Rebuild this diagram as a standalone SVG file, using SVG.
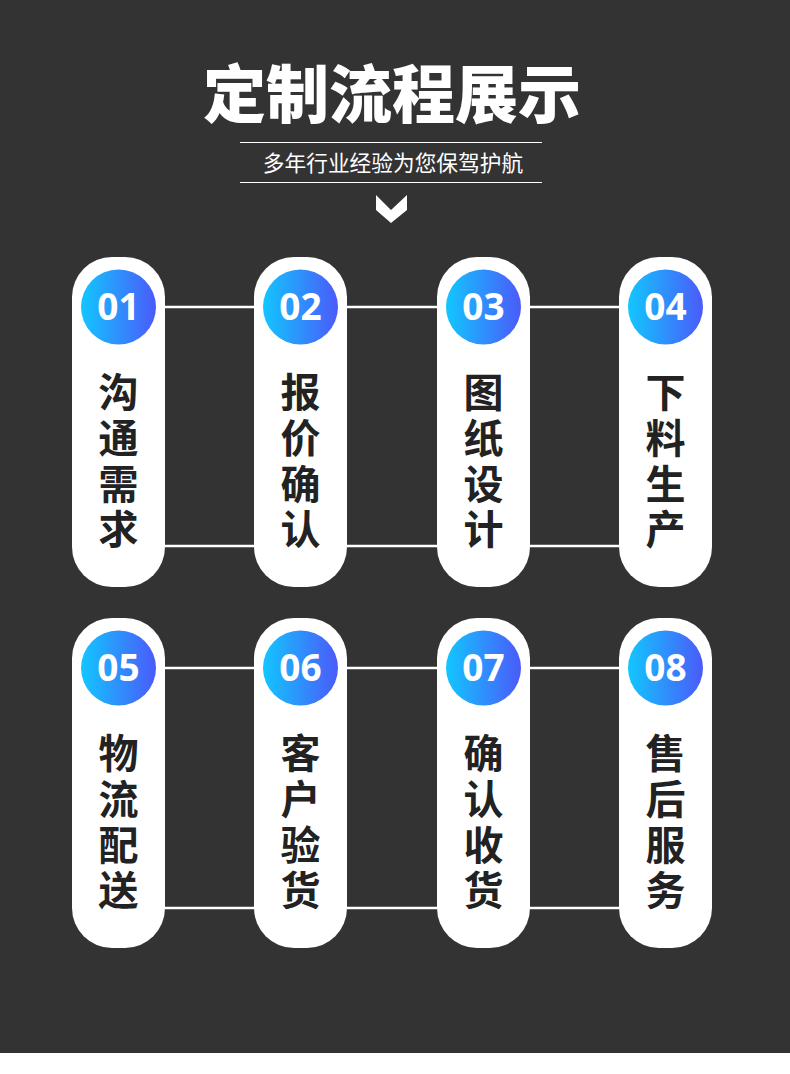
<svg xmlns="http://www.w3.org/2000/svg" width="790" height="1074" viewBox="0 0 790 1074">
<defs>
<linearGradient id="g" x1="0" y1="0" x2="1" y2="0">
<stop offset="0" stop-color="#12c6ff"/>
<stop offset="1" stop-color="#4b5afa"/>
</linearGradient>
<style>
.card{fill:#ffffff}
.num{fill:#ffffff;font-family:"Noto Sans","Noto Sans CJK SC",sans-serif;font-weight:700;font-size:37px;text-anchor:middle}
.lbl{fill:#222222;font-family:"Noto Sans CJK SC",sans-serif;font-weight:700;font-size:40px;text-anchor:start;writing-mode:vertical-rl;letter-spacing:5.7px}
.conn line{stroke:#ffffff;stroke-width:2.4}
</style>
</defs>
<rect x="0" y="0" width="790" height="1074" fill="#ffffff"/>
<rect x="0" y="0" width="790" height="1053" fill="#333333"/>
<g id="header">
<text x="392" y="117" fill="#ffffff" font-family="Noto Sans CJK SC, sans-serif" font-weight="900" font-size="63" text-anchor="middle">定制流程展示</text>
<line x1="240" y1="142.5" x2="542" y2="142.5" stroke="#ffffff" stroke-width="1"/>
<line x1="240" y1="182.5" x2="542" y2="182.5" stroke="#ffffff" stroke-width="1"/>
<text x="393" y="171" fill="#ffffff" font-family="Noto Sans CJK SC, sans-serif" font-size="21.7" text-anchor="middle">多年行业经验为您保驾护航</text>
<polygon points="376,195 391,210 407,195 407,210 391,223 376,210" fill="#ffffff"/>
</g>
<g id="connectors" class="conn">
<line x1="165" y1="307" x2="254" y2="307"/>
<line x1="347" y1="307" x2="437" y2="307"/>
<line x1="530" y1="307" x2="619" y2="307"/>
<line x1="165" y1="546" x2="254" y2="546"/>
<line x1="347" y1="546" x2="437" y2="546"/>
<line x1="530" y1="546" x2="619" y2="546"/>
<line x1="165" y1="668" x2="254" y2="668"/>
<line x1="347" y1="668" x2="437" y2="668"/>
<line x1="530" y1="668" x2="619" y2="668"/>
<line x1="165" y1="908" x2="254" y2="908"/>
<line x1="347" y1="908" x2="437" y2="908"/>
<line x1="530" y1="908" x2="619" y2="908"/>
</g>
<g id="step01">
<rect class="card" x="72" y="257" width="93" height="330" rx="40"/>
<circle cx="118.5" cy="307" r="37.5" fill="url(#g)"/>
<text class="num" x="118.5" y="320">01</text>
<text class="lbl" x="118.5" y="372">沟通需求</text>
</g>
<g id="step02">
<rect class="card" x="254" y="257" width="93" height="330" rx="40"/>
<circle cx="300.5" cy="307" r="37.5" fill="url(#g)"/>
<text class="num" x="300.5" y="320">02</text>
<text class="lbl" x="300.5" y="372">报价确认</text>
</g>
<g id="step03">
<rect class="card" x="437" y="257" width="93" height="330" rx="40"/>
<circle cx="483.5" cy="307" r="37.5" fill="url(#g)"/>
<text class="num" x="483.5" y="320">03</text>
<text class="lbl" x="483.5" y="372">图纸设计</text>
</g>
<g id="step04">
<rect class="card" x="619" y="257" width="93" height="330" rx="40"/>
<circle cx="665.5" cy="307" r="37.5" fill="url(#g)"/>
<text class="num" x="665.5" y="320">04</text>
<text class="lbl" x="665.5" y="372">下料生产</text>
</g>
<g id="step05">
<rect class="card" x="72" y="618" width="93" height="330" rx="40"/>
<circle cx="118.5" cy="668" r="37.5" fill="url(#g)"/>
<text class="num" x="118.5" y="681">05</text>
<text class="lbl" x="118.5" y="733">物流配送</text>
</g>
<g id="step06">
<rect class="card" x="254" y="618" width="93" height="330" rx="40"/>
<circle cx="300.5" cy="668" r="37.5" fill="url(#g)"/>
<text class="num" x="300.5" y="681">06</text>
<text class="lbl" x="300.5" y="733">客户验货</text>
</g>
<g id="step07">
<rect class="card" x="437" y="618" width="93" height="330" rx="40"/>
<circle cx="483.5" cy="668" r="37.5" fill="url(#g)"/>
<text class="num" x="483.5" y="681">07</text>
<text class="lbl" x="483.5" y="733">确认收货</text>
</g>
<g id="step08">
<rect class="card" x="619" y="618" width="93" height="330" rx="40"/>
<circle cx="665.5" cy="668" r="37.5" fill="url(#g)"/>
<text class="num" x="665.5" y="681">08</text>
<text class="lbl" x="665.5" y="733">售后服务</text>
</g>
</svg>
